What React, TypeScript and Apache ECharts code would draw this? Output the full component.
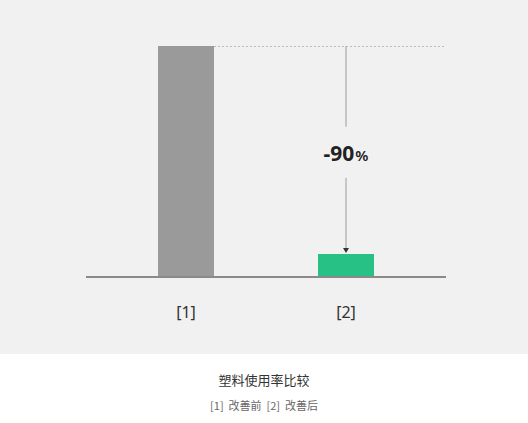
import React, { useEffect, useRef } from "react";
import * as echarts from "echarts";

const categories = ["[1]", "[2]"];
const usage = [100, 10];
const barColors = ["#9a9a9a", "#27c085"];
const changeValue = "-90";
const changeUnit = "%";
const captionTitle = "塑料使用率比较";
const captionSub = "[1]  改善前  [2]  改善后";

// annotation gap around the change label, in value units
const gapTop = 65;
const gapBottom = 43;
const labelAt = 53.5;

export default function App() {
  const chartRef = useRef<HTMLDivElement>(null);

  useEffect(() => {
    if (!chartRef.current) return;
    const chart = echarts.init(chartRef.current, null, { renderer: "svg" });

    chart.setOption({
      animation: false,
      backgroundColor: "#ffffff",
      textStyle: { fontFamily: "Noto Sans" },
      title: {
        text: captionTitle,
        subtext: captionSub,
        left: "center",
        top: 368,
        itemGap: 14,
        textStyle: {
          fontFamily: "Noto Sans CJK SC",
          fontSize: 13,
          fontWeight: "normal",
          color: "#333",
        },
        subtextStyle: {
          fontFamily: "Noto Sans CJK SC",
          fontSize: 11,
          color: "#666",
        },
      },
      grid: { left: 106, right: 102, top: 46, bottom: 146 },
      xAxis: {
        type: "category",
        data: categories,
        axisLine: { show: false },
        axisTick: { show: false },
        axisLabel: { fontSize: 16, color: "#333", margin: 27 },
      },
      yAxis: { type: "value", min: 0, max: 100, show: false },
      series: [
        {
          type: "bar",
          barWidth: 56,
          z: 3,
          data: usage.map((v, i) => ({
            value: v,
            itemStyle: { color: barColors[i] },
          })),
        },
      ],
    });

    // ── annotations placed via the chart's own scales ──
    const p = (c: string, v: number) =>
      chart.convertToPixel({ gridIndex: 0 }, [c, v]) as number[];
    const [x1, yTop] = p(categories[0], usage[0]);
    const [x2, y2] = p(categories[1], usage[1]);
    const [, y0] = p(categories[0], 0);
    const [, yGapTop] = p(categories[1], gapTop);
    const [, yGapBottom] = p(categories[1], gapBottom);
    const [, yLabel] = p(categories[1], labelAt);
    const half = 28;
    const left = x1 - 100;
    const right = x2 + 100;

    chart.setOption({
      graphic: [
        {
          type: "rect",
          silent: true,
          z: -10,
          shape: { x: 0, y: 0, width: 528, height: 354 },
          style: { fill: "#f1f1f1" },
        },
        {
          type: "line",
          silent: true,
          z: 1,
          shape: { x1: x1 + half, y1: yTop + 0.5, x2: right, y2: yTop + 0.5 },
          style: { stroke: "#bbbbbb", lineWidth: 1, lineDash: [2, 2] },
        },
        {
          type: "line",
          silent: true,
          z: 10,
          shape: { x1: left, y1: y0, x2: right, y2: y0 },
          style: { stroke: "#8a8a8a", lineWidth: 2 },
        },
        {
          type: "line",
          silent: true,
          shape: { x1: x2, y1: yTop, x2: x2, y2: yGapTop },
          style: { stroke: "#aaaaaa", lineWidth: 1.2 },
        },
        {
          type: "line",
          silent: true,
          shape: { x1: x2, y1: yGapBottom, x2: x2, y2: y2 - 4 },
          style: { stroke: "#aaaaaa", lineWidth: 1.2 },
        },
        {
          type: "polygon",
          silent: true,
          shape: {
            points: [
              [x2 - 3, y2 - 6],
              [x2 + 3, y2 - 6],
              [x2, y2 - 1],
            ],
          },
          style: { fill: "#333" },
        },
        {
          type: "text",
          silent: true,
          x: x2,
          y: yLabel,
          style: {
            text: `{v|${changeValue}}{u|${changeUnit}}`,
            align: "center",
            verticalAlign: "middle",
            rich: {
              v: {
                fontFamily: "Noto Sans",
                fontSize: 21,
                fontWeight: "bold",
                fill: "#222",
              },
              u: {
                fontFamily: "Noto Sans",
                fontSize: 15,
                fontWeight: 600,
                fill: "#222",
                padding: [4, 0, 0, 1],
              },
            },
          },
        },
      ],
    });

    return () => chart.dispose();
  }, []);

  return (
    <div
      ref={chartRef}
      style={{ position: "fixed", left: 0, top: 0, width: 528, height: 423 }}
    />
  );
}
